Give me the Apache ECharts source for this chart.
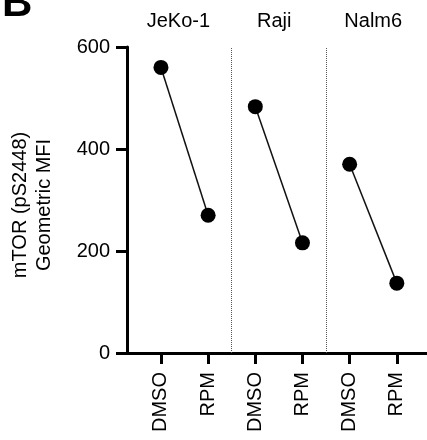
<!DOCTYPE html>
<html>
<head>
<meta charset="utf-8">
<script src="https://cdn.jsdelivr.net/npm/echarts@6/dist/echarts.min.js"></script>
<style>
  html, body { margin: 0; padding: 0; background: #fff; }
  #main { width: 427px; height: 440px; }
</style>
</head>
<body>
<div id="main"></div>
<script>
// data
var groups = ['JeKo-1', 'Raji', 'Nalm6'];
var treatments = ['DMSO', 'RPM', 'DMSO', 'RPM', 'DMSO', 'RPM'];
var jeko = [560, 270];
var raji = [483, 216];
var nalm6 = [370, 137];
var yTicks = [0, 200, 400, 600];

var font = 'Liberation Sans, Arial, sans-serif';
var myChart = echarts.init(document.getElementById('main'));

function pairSeries(name, vals, start) {
    return {
        name: name,
        type: 'line',
        data: [[start, vals[0]], [start + 1, vals[1]]],
        symbol: 'circle',
        symbolSize: 15,
        itemStyle: { color: '#000' },
        lineStyle: { color: '#111', width: 1.5 },
        z: 5
    };
}

var series = [
    pairSeries(groups[0], jeko, 1),
    pairSeries(groups[1], raji, 3),
    pairSeries(groups[2], nalm6, 5)
];
// dotted separators between cell lines
series[0].markLine = {
    silent: true,
    symbol: 'none',
    label: { show: false },
    lineStyle: { color: '#555', type: 'dotted', width: 1 },
    data: [{ xAxis: 2.5 }, { xAxis: 4.5 }]
};

var groupPos = [1.37, 3.4, 5.5];

var option = {
    animation: false,
    title: {
        text: 'B',
        left: -3,
        top: -22,
        textStyle: { fontSize: 42, fontWeight: 'bold', color: '#000', fontFamily: font }
    },
    grid: { left: 127, right: 0, top: 47, bottom: 87, outerBoundsMode: 'none', containLabel: false },
    xAxis: [{
        type: 'value',
        min: 0.28,
        max: 6.64,
        axisLine: { show: true, onZero: false, lineStyle: { color: '#000', width: 3 } },
        axisTick: { show: true, length: 11, lineStyle: { color: '#000', width: 3 }, customValues: [1, 2, 3, 4, 5, 6] },
        axisLabel: {
            customValues: [1, 2, 3, 4, 5, 6],
            rotate: 90,
            margin: 19,
            fontSize: 20,
            color: '#000',
            fontFamily: font,
            formatter: function (v) { return treatments[Math.round(v) - 1]; }
        },
        splitLine: { show: false }
    }, {
        type: 'value',
        position: 'top',
        min: 0.28,
        max: 6.64,
        axisLine: { show: false },
        axisTick: { show: false },
        axisLabel: {
            customValues: groupPos,
            margin: 16,
            fontSize: 20,
            color: '#000',
            fontFamily: font,
            formatter: function (v) { return groups[groupPos.indexOf(v)]; }
        },
        splitLine: { show: false }
    }],
    yAxis: {
        type: 'value',
        min: 0,
        max: 600,
        interval: 200,
        name: 'mTOR (pS2448)\nGeometric MFI',
        nameLocation: 'middle',
        nameGap: 71,
        nameTextStyle: { fontSize: 20, color: '#000', fontFamily: font, lineHeight: 24, padding: [0, 10, 0, 0] },
        axisLine: { show: true, lineStyle: { color: '#000', width: 3 } },
        axisTick: { show: true, length: 11, lineStyle: { color: '#000', width: 3 } },
        axisLabel: {
            margin: 17,
            fontSize: 20,
            color: '#000',
            fontFamily: font,
            formatter: function (v) { return yTicks.indexOf(v) >= 0 ? String(v) : ''; }
        },
        splitLine: { show: false }
    },
    series: series
};
myChart.setOption(option);
</script>
</body>
</html>
